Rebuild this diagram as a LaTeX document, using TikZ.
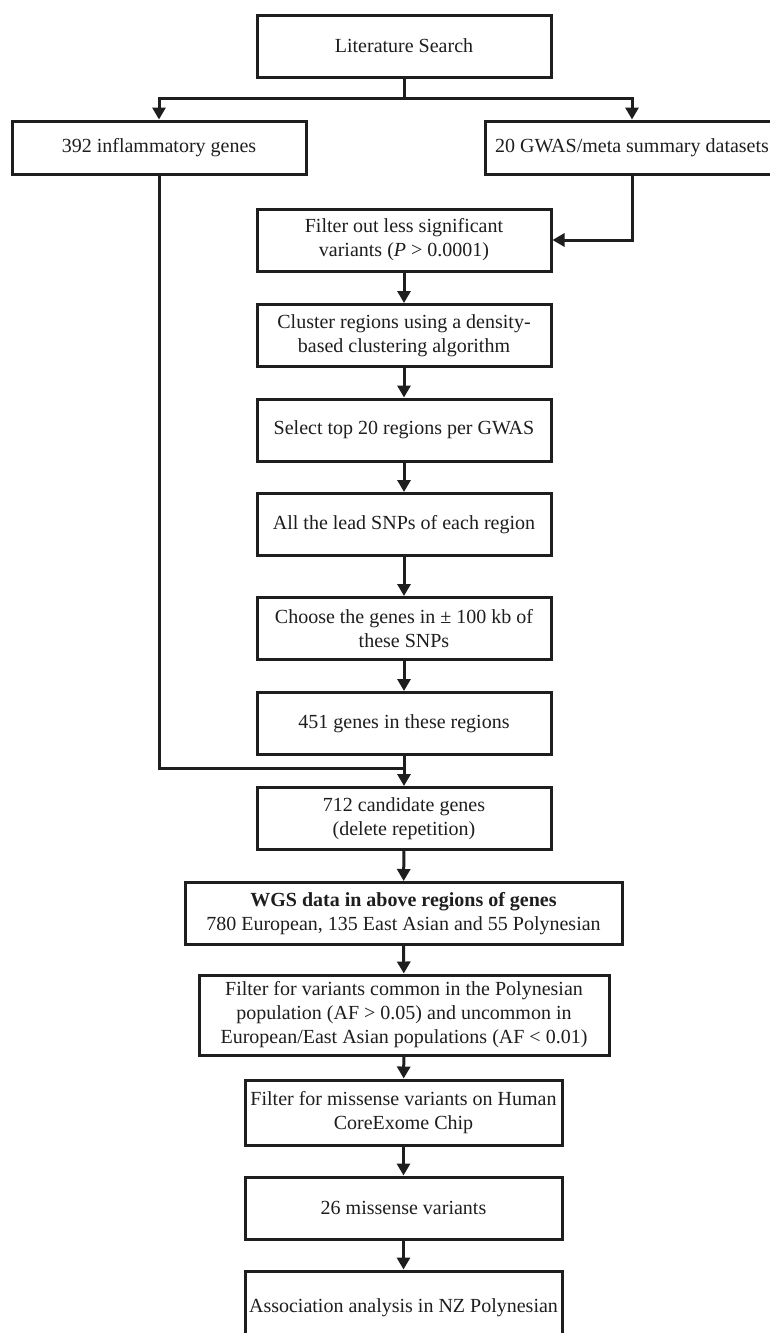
\documentclass[tikz,border=0pt]{standalone}
\usepackage{fontspec}
\setmainfont{Liberation Serif}
\usetikzlibrary{arrows.meta}
\definecolor{ink}{HTML}{1E1E1E}
\begin{document}
\begin{tikzpicture}[x=1pt,y=-1pt,
  box/.style={draw=ink,line width=3pt,minimum width=294pt,minimum height=62pt,inner sep=0pt,
    align=center,font=\fontsize{20}{24}\selectfont,text=ink},
  arr/.style={draw=ink,line width=3pt,-{Triangle[width=13pt,length=12pt]}},
  ln/.style={draw=ink,line width=3pt}]
\useasboundingbox (0,0) rectangle (770,1333);
\clip (0,0) rectangle (770,1333);
\fill[white] (0,0) rectangle (770,1333);

\node[box] (lit) at (404,46) {Literature Search};
\node[box,minimum height=53pt] (inf) at (159,147.5) {392 inflammatory genes};
\node[box,minimum height=53pt] (gwas) at (632,147.5) {20 GWAS/meta summary datasets};
\node[box] (filt) at (404,240) {Filter out less significant\\variants (\textit{P} > 0.0001)};
\node[box] (clus) at (404,335.5) {Cluster regions using a density-\\based clustering algorithm};
\node[box] (sel) at (404,430) {Select top 20 regions per GWAS};
\node[box] (lead) at (404,524.5) {All the lead SNPs of each region};
\node[box] (choose) at (404,628.5) {Choose the genes in ± 100 kb of\\these SNPs};
\node[box] (g451) at (404,723.5) {451 genes in these regions};
\node[box] (c712) at (404,818.5) {712 candidate genes\\(delete repetition)};
\node[box,minimum width=437pt] (wgs) at (403.5,913.5) {\textbf{WGS data in above regions of genes}\\780 European, 135 East Asian and 55 Polynesian};
\node[box,minimum width=410pt,minimum height=80pt] (fvar) at (404,1015) {Filter for variants common in the Polynesian\\population (AF > 0.05) and uncommon in\\European/East Asian populations (AF < 0.01)};
\node[box,minimum width=317pt,minimum height=65pt] (miss) at (403.5,1112.5) {Filter for missense variants on Human\\CoreExome Chip};
\node[box,minimum width=317pt] (m26) at (403.5,1208) {26 missense variants};
\node[box,minimum width=317pt,minimum height=74pt] (assoc) at (403.5,1308) {Association analysis in NZ Polynesian};

\coordinate (split) at (404,98);
\coordinate (join) at (404,768);

\draw[ln] (lit.south) -- (split);
\draw[arr] (split) -| (inf.north);
\draw[arr] (split) -| (gwas.north);
\draw[arr] (gwas.south) |- (filt.east);
\draw[arr] (filt) -- (clus);
\draw[arr] (clus) -- (sel);
\draw[arr] (sel) -- (lead);
\draw[arr] (lead) -- (choose);
\draw[arr] (choose) -- (g451);
\draw[ln] (inf.south) |- (join);
\draw[arr] (g451) -- (c712);
\draw[arr] (c712) -- (wgs);
\draw[arr] (wgs) -- (fvar);
\draw[arr] (fvar) -- (miss);
\draw[arr] (miss) -- (m26);
\draw[arr] (m26) -- (assoc);
\end{tikzpicture}
\end{document}
